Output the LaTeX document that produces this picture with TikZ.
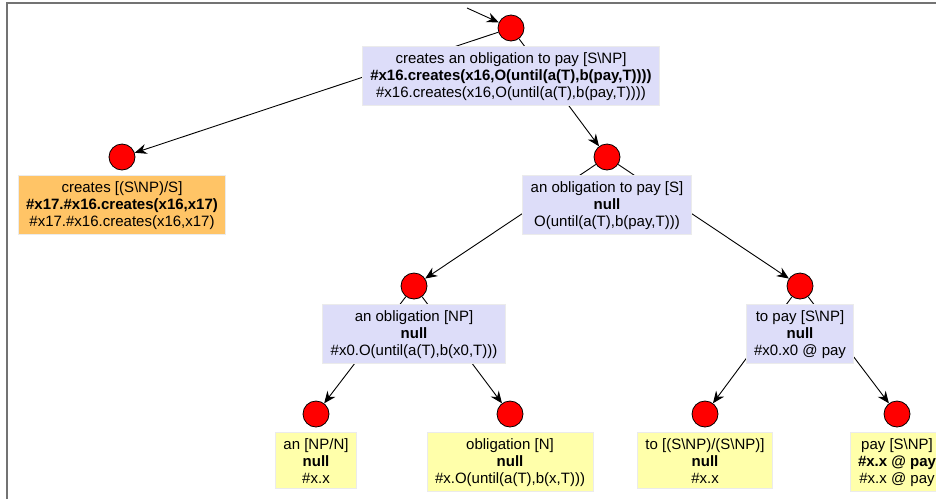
\documentclass[tikz,border=0pt]{standalone}
\usepackage{fontspec}
\setmainfont{Liberation Sans}
\usetikzlibrary{positioning,arrows.meta}

\definecolor{lav}{RGB}{221,221,249}
\definecolor{lorange}{RGB}{255,196,102}
\definecolor{lyellow}{RGB}{255,255,170}

\begin{document}
\begin{tikzpicture}[x=1pt,y=-1pt,
  dot/.style={circle, fill=red, draw=black, line width=0.8pt, minimum size=26pt, inner sep=0pt},
  sem/.style={rectangle, draw=black!8, line width=1pt, align=center, inner xsep=8pt, inner ysep=5.5pt,
    font=\fontsize{15}{17}\selectfont},
  edge/.style={line width=0.9pt, -{Stealth[length=12pt,width=10pt,inset=4pt]}}]
\clip (0,0) rectangle (936,499);
\fill[white] (0,0) rectangle (936,499);
\draw[black!55, line width=2pt] (6.5,499) -- (6.5,2.5) -- (936,2.5);

\node[dot] (top) at (511,28) {};
\node[dot] (cr) at (122,157) {};
\node[dot] (op) at (607,157) {};
\node[dot] (ob) at (414,286) {};
\node[dot] (tp) at (800,286) {};
\node[dot] (an) at (316,414) {};
\node[dot] (obn) at (510,414) {};
\node[dot] (to) at (705,414) {};
\node[dot] (pay) at (897,414) {};

\coordinate (in) at (467,8);
\draw[edge] (in) -- (top);
\draw[edge] (top) -- (cr);
\draw[edge] (top) -- (op);
\draw[edge] (op) -- (ob);
\draw[edge] (op) -- (tp);
\draw[edge] (ob) -- (an);
\draw[edge] (ob) -- (obn);
\draw[edge] (tp) -- (to);
\draw[edge] (tp) -- (pay);

\node[sem, fill=lav, below=5pt of top] (topL) {creates an obligation to pay [S\textbackslash NP]\\
  \textbf{\#x16.creates(x16,O(until(a(T),b(pay,T))))}\\ \#x16.creates(x16,O(until(a(T),b(pay,T))))};
\node[sem, fill=lorange, below=5pt of cr] (crL) {creates [(S\textbackslash NP)/S]\\
  \textbf{\#x17.\#x16.creates(x16,x17)}\\ \#x17.\#x16.creates(x16,x17)};
\node[sem, fill=lav, below=5pt of op] (opL) {an obligation to pay [S]\\
  \textbf{null}\\ O(until(a(T),b(pay,T)))};
\node[sem, fill=lav, below=5pt of ob] (obL) {an obligation [NP]\\
  \textbf{null}\\ \#x0.O(until(a(T),b(x0,T)))};
\node[sem, fill=lav, below=5pt of tp] (tpL) {to pay [S\textbackslash NP]\\
  \textbf{null}\\ \#x0.x0 @ pay};
\node[sem, fill=lyellow, below=5pt of an] (anL) {an [NP/N]\\
  \textbf{null}\\ \#x.x};
\node[sem, fill=lyellow, below=5pt of obn] (obnL) {obligation [N]\\
  \textbf{null}\\ \#x.O(until(a(T),b(x,T)))};
\node[sem, fill=lyellow, below=5pt of to] (toL) {to [(S\textbackslash NP)/(S\textbackslash NP)]\\
  \textbf{null}\\ \#x.x};
\node[sem, fill=lyellow, below=5pt of pay] (payL) {pay [S\textbackslash NP]\\
  \textbf{\#x.x @ pay}\\ \#x.x @ pay};
\end{tikzpicture}
\end{document}
